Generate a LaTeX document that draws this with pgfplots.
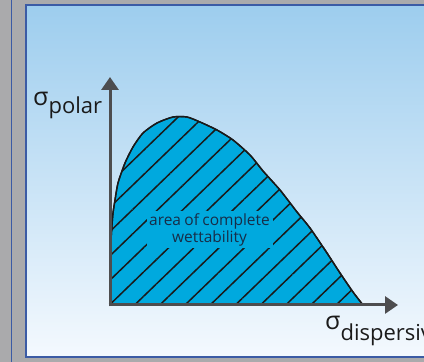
\documentclass[border=0pt]{standalone}
\usepackage{pgfplots}
\pgfplotsset{compat=1.18}
\usepackage{fontspec}
\setmainfont{Open Sans}
\usetikzlibrary{patterns.meta,arrows.meta}
\definecolor{outergray}{HTML}{AAAAAC}
\definecolor{frameblue}{HTML}{3B5BA5}
\definecolor{gradtop}{HTML}{9DCDEE}
\definecolor{gradbot}{HTML}{F4F9FE}
\definecolor{areablue}{HTML}{00A9DE}
\definecolor{hatch}{HTML}{1A1A1A}
\definecolor{axisgray}{HTML}{4D4D4F}
\definecolor{textnavy}{HTML}{172D48}
\begin{document}
\begin{tikzpicture}
\begin{axis}[x=1pt, y=1pt, xmin=-110, xmax=314, ymin=-57, ymax=305,
  hide axis, clip=false, scale only axis]
% background
\fill[outergray] (axis cs:-110,-57) rectangle (axis cs:314,305);
\draw[frameblue, line width=1pt] (axis cs:-99,-57) -- (axis cs:-99,305);
\shade[top color=gradtop, bottom color=gradbot] (axis cs:-84,-52) rectangle (axis cs:330,300);
\draw[frameblue, line width=1.5pt] (axis cs:330,-52) -- (axis cs:-84,-52) -- (axis cs:-84,300) -- (axis cs:330,300);
% area
\addplot[draw=hatch, line width=1.4pt, fill=areablue, smooth, tension=0.4,
  postaction={pattern={Lines[angle=44,distance=17.5pt,line width=1.5pt]}, pattern color=hatch}]
  coordinates {(0,0) (0,45) (1,65) (2,80) (3,92) (5,105) (8,122) (15,142) (23,158)
  (33,172) (47,182) (63,188) (77,188) (90,183) (107,175) (123,165) (140,150)
  (153,134) (170,115) (187,93) (200,77) (217,52) (230,32) (243,13) (253,0)} -- cycle;
% label box
\node[fill=areablue, inner sep=0pt, text width=126pt, minimum height=37pt,
  align=center, text=textnavy]
  at (axis cs:99.5,75) {\fontsize{15.5}{17}\selectfont area of complete\\wettability};
% axes
\draw[axisgray, line width=3pt, -{Triangle[width=17pt,length=13pt]}] (axis cs:0,-1.5) -- (axis cs:0,228);
\draw[axisgray, line width=3pt, -{Triangle[width=17pt,length=13pt]}] (axis cs:-1.5,0) -- (axis cs:288,0);
% labels
\node[anchor=base west, inner sep=0pt, text=hatch, font=\fontsize{22}{24}\selectfont]
  at (axis cs:-77,199) {{\fontsize{25}{27}\selectfont σ}\raisebox{-8pt}{polar}};
\node[anchor=base west, inner sep=0pt, text=hatch, font=\fontsize{22}{24}\selectfont]
  at (axis cs:215,-25) {{\fontsize{25}{27}\selectfont σ}\raisebox{-11pt}{dispersive}};
\end{axis}
\pgfresetboundingbox
\path[use as bounding box] (current axis.south west) rectangle (current axis.north east);
\end{tikzpicture}
\end{document}
